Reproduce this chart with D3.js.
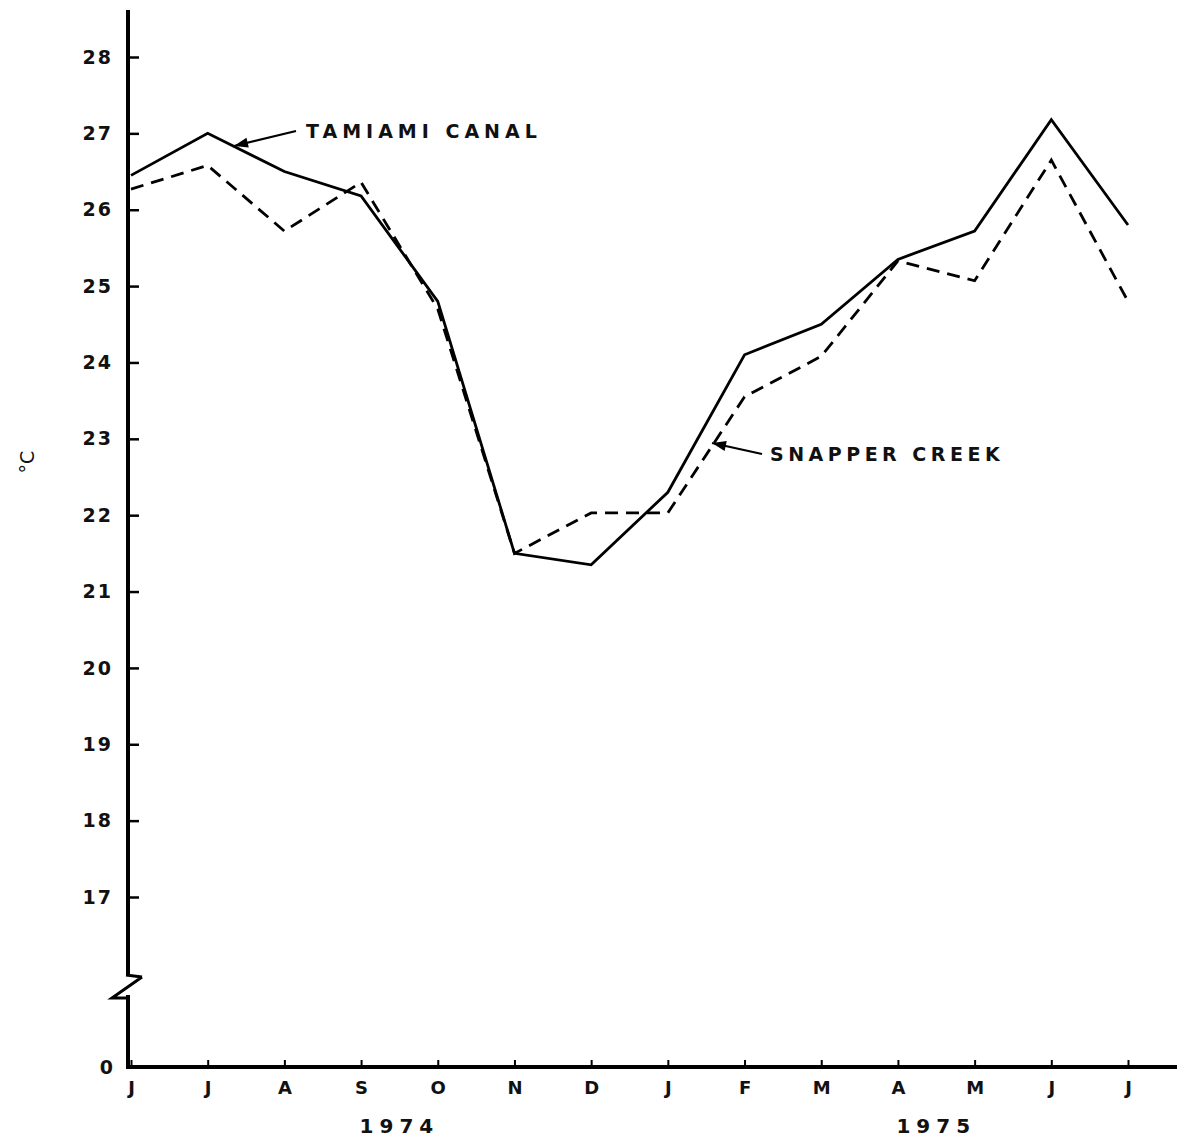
<!DOCTYPE html>
<html><head><meta charset="utf-8">
<script src="https://cdn.jsdelivr.net/npm/d3@7/dist/d3.min.js"></script>
<style>
body{margin:0;background:#fff;}
text{font-family:"DejaVu Sans",sans-serif;font-weight:bold;fill:#111;}
</style></head>
<body><svg id="c" width="1187" height="1141"></svg>
<script>
const months = ["J","J","A","S","O","N","D","J","F","M","A","M","J","J"];
const tamiami = [26.45,27.0,26.5,26.18,24.8,21.5,21.35,22.3,24.1,24.5,25.35,25.72,27.18,25.8];
const snapper = [26.27,26.58,25.72,26.36,24.7,21.5,22.03,22.03,23.55,24.08,25.33,25.07,26.65,24.8];
const yTicks = [17,18,19,20,21,22,23,24,25,26,27,28];
const years = [{label:"1974", pos:3.5},{label:"1975", pos:10.5}];

const svg = d3.select("#c");
const x = d3.scaleLinear().domain([0, months.length-1]).range([131,1128]);
const y = d3.scaleLinear().domain([17,28]).range([897,57]);
const axX = 128, baseY = 1067;

// axes lines
svg.append("line").attr("x1",axX).attr("x2",axX).attr("y1",10).attr("y2",975).attr("stroke","#000").attr("stroke-width",4);
svg.append("line").attr("x1",axX).attr("x2",axX).attr("y1",995).attr("y2",baseY+2).attr("stroke","#000").attr("stroke-width",4);
svg.append("path").attr("d",`M${axX+14},977 L${axX-16},998 L${axX+2},998 M${axX-2},975 L${axX+14},977`).attr("stroke","#000").attr("stroke-width",3).attr("fill","none");
svg.append("line").attr("x1",axX-2).attr("x2",1177).attr("y1",baseY).attr("y2",baseY).attr("stroke","#000").attr("stroke-width",4);

// y axis
const gy = svg.append("g").attr("transform",`translate(${axX},0)`)
  .call(d3.axisLeft(y).tickValues(yTicks).tickSizeInner(-11).tickSizeOuter(0).tickPadding(15).tickFormat(d3.format("d")));
gy.select(".domain").remove();
gy.selectAll(".tick line").attr("stroke","#000").attr("stroke-width",2.5);
gy.selectAll(".tick text").style("font-size","19px").style("font-family","DejaVu Sans").style("font-weight","bold").attr("letter-spacing","2px").attr("fill","#111");
svg.append("text").attr("x",113).attr("y",baseY+7).attr("text-anchor","end").style("font-size","19px").text("0");

// x axis
const gx = svg.append("g").attr("transform",`translate(0,${baseY})`)
  .call(d3.axisBottom(x).tickValues(d3.range(months.length)).tickSizeInner(-7).tickSizeOuter(0).tickPadding(14).tickFormat(i=>months[i]));
gx.select(".domain").remove();
gx.selectAll(".tick line").attr("stroke","#000").attr("stroke-width",2);
gx.selectAll(".tick text").style("font-size","18px").style("font-family","DejaVu Sans").style("font-weight","bold").attr("fill","#111");

years.forEach(yr=>{
  svg.append("text").attr("x",x(yr.pos)).attr("y",1133).attr("text-anchor","middle").style("font-size","20px").attr("letter-spacing","6px").text(yr.label);
});

svg.append("text").attr("transform","translate(34,462) rotate(-90)").attr("text-anchor","middle").style("font-size","19px").style("font-weight","normal").text("°C");

const line = d3.line().x((d,i)=>x(i)).y(d=>y(d));
svg.append("path").datum(tamiami).attr("d",line).attr("fill","none").attr("stroke","#000").attr("stroke-width",2.8);
svg.append("path").datum(snapper).attr("d",line).attr("fill","none").attr("stroke","#000").attr("stroke-width",2.8).attr("stroke-dasharray","13,8");

// annotations
function label(txt, tx, ty, ax0, ay0, ax1, ay1, ls){
  svg.append("line").attr("x1",ax0).attr("y1",ay0).attr("x2",ax1).attr("y2",ay1).attr("stroke","#000").attr("stroke-width",2.2);
  const ang = Math.atan2(ay1-ay0, ax1-ax0);
  const L=14, W=5;
  const bx = ax1 - L*Math.cos(ang), by = ay1 - L*Math.sin(ang);
  svg.append("path").attr("d",`M${ax1},${ay1} L${bx - W*Math.sin(ang)},${by + W*Math.cos(ang)} L${bx + W*Math.sin(ang)},${by - W*Math.cos(ang)} Z`).attr("fill","#000");
  svg.append("text").attr("x",tx).attr("y",ty).style("font-size","19px").attr("letter-spacing",ls).text(txt);
}
label("TAMIAMI  CANAL", 306, 138, 296, 131, 234, 146, "5px");
label("SNAPPER CREEK", 770, 461, 762, 454, 712, 443, "4.5px");
</script></body></html>
